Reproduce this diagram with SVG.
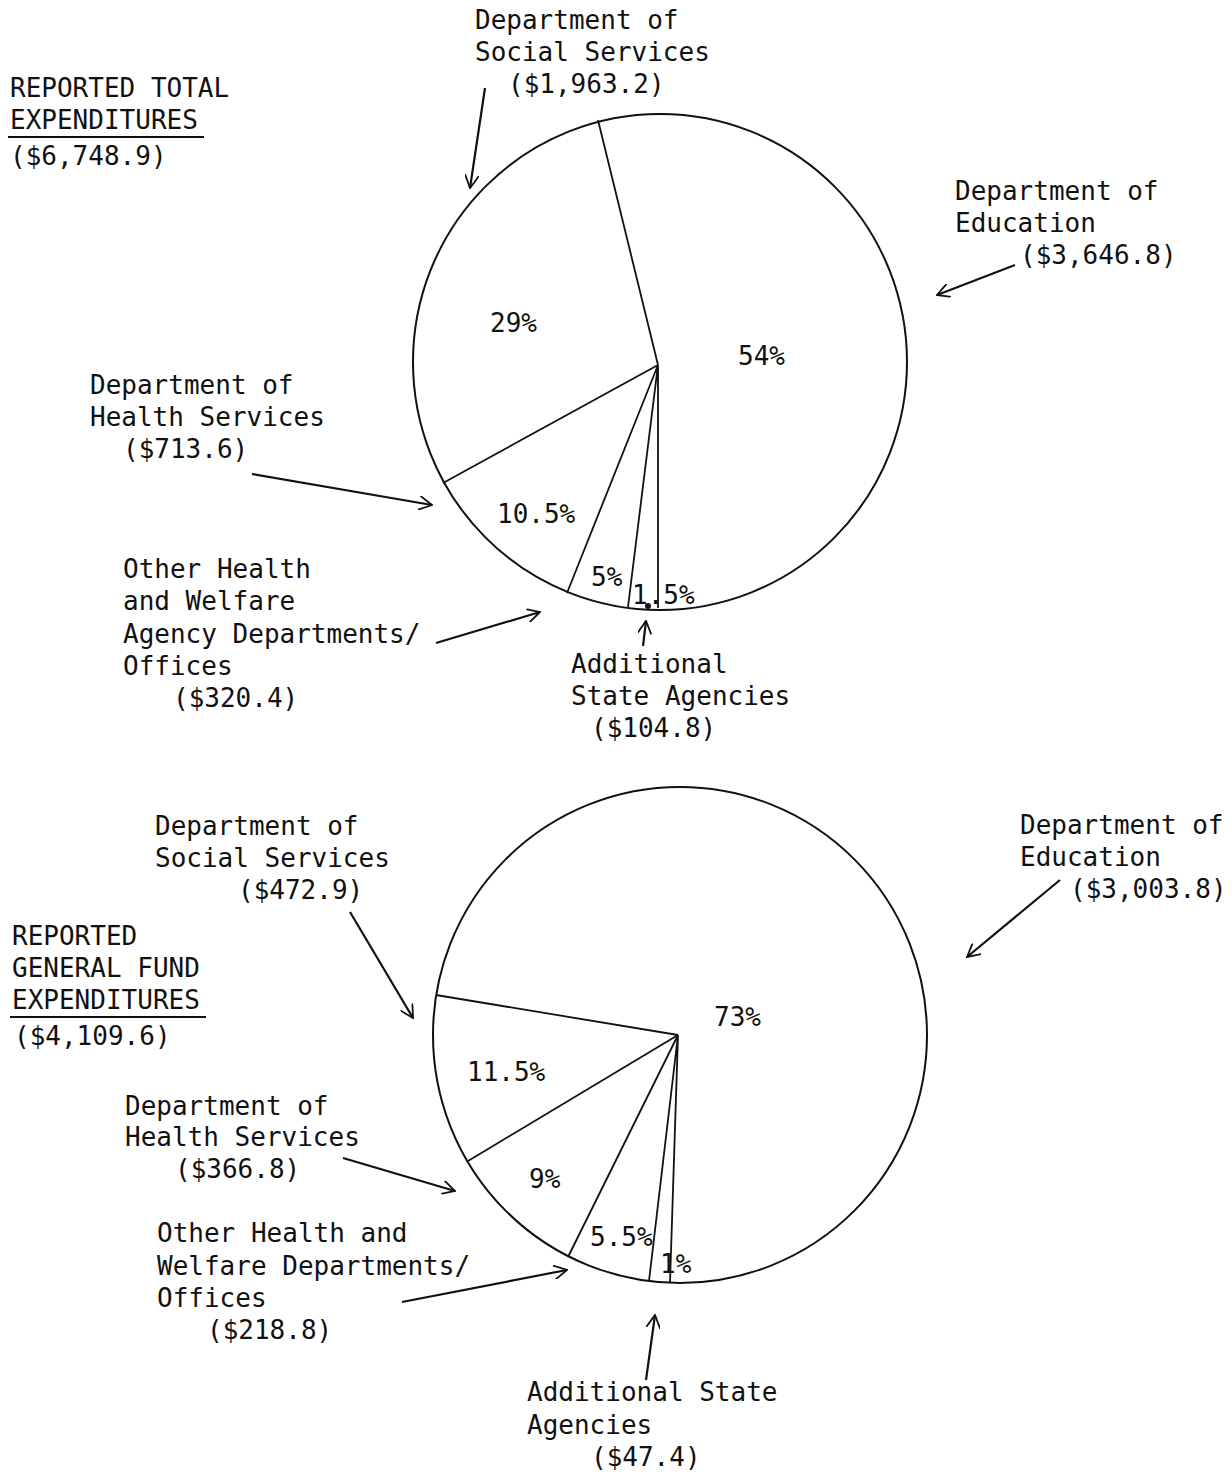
<svg xmlns="http://www.w3.org/2000/svg" width="1232" height="1472" viewBox="0 0 1232 1472">
<style>
text{font-family:"DejaVu Sans Mono","Liberation Mono",monospace;font-size:26px;letter-spacing:0px;fill:#111}
.pie{fill:none;stroke:#111;stroke-width:2}
.sp{stroke:#111;stroke-width:1.8;fill:none}
.ar{stroke:#111;stroke-width:2.2;fill:none;marker-end:url(#ah)}
.ul{stroke:#111;stroke-width:2.2}
</style>
<defs>
<marker id="ah" viewBox="0 0 14 14" refX="13" refY="7" markerWidth="14" markerHeight="14" markerUnits="userSpaceOnUse" orient="auto">
<path d="M0,0 L13,7 L0,14" fill="none" stroke="#111" stroke-width="1.8"/>
</marker>
</defs>
<rect width="1232" height="1472" fill="#fff"/>

<g id="pie-total">
<ellipse class="pie" cx="660" cy="362" rx="247" ry="248"/>
<path class="sp" d="M658,365 L598,120 M658,365 L443,483 M658,365 L567,593 M658,365 L628,607 M658,365 L658,608"/>
<circle cx="648" cy="606" r="3" fill="#111"/>
<text x="490" y="332">29%</text>
<text x="738" y="365">54%</text>
<text x="497" y="523">10.5%</text>
<text x="591" y="586">5%</text>
<text x="632" y="604">1.5%</text>
</g>

<g id="title-total">
<text x="10" y="97">REPORTED TOTAL</text>
<text x="10" y="129">EXPENDITURES</text>
<line class="ul" x1="8" y1="137" x2="204" y2="137"/>
<text x="10" y="165">($6,748.9)</text>
</g>
<g id="t-social">
<text x="475" y="29">Department of</text>
<text x="475" y="61">Social Services</text>
<text x="508" y="93">($1,963.2)</text>
</g>
<g id="t-education">
<text x="955" y="200">Department of</text>
<text x="955" y="232">Education</text>
<text x="1020" y="264">($3,646.8)</text>
</g>
<g id="t-health">
<text x="90" y="394">Department of</text>
<text x="90" y="426">Health Services</text>
<text x="123" y="458">($713.6)</text>
</g>
<g id="t-other">
<text x="123" y="578">Other Health</text>
<text x="123" y="610">and Welfare</text>
<text x="123" y="643">Agency Departments/</text>
<text x="123" y="675">Offices</text>
<text x="173" y="707">($320.4)</text>
</g>
<g id="t-additional">
<text x="571" y="673">Additional</text>
<text x="571" y="705">State Agencies</text>
<text x="591" y="737">($104.8)</text>
</g>

<g id="pie-general">
<ellipse class="pie" cx="680" cy="1035" rx="247" ry="248"/>
<path class="sp" d="M678,1035 L436,995 M678,1035 L468,1161 M678,1035 L568,1257 M678,1035 L649,1281 M678,1035 L670,1283"/>
<text x="714" y="1026">73%</text>
<text x="467" y="1081">11.5%</text>
<text x="529" y="1188">9%</text>
<text x="590" y="1246">5.5%</text>
<text x="660" y="1273">1%</text>
</g>

<g id="title-general">
<text x="12" y="945">REPORTED</text>
<text x="12" y="977">GENERAL FUND</text>
<text x="12" y="1009">EXPENDITURES</text>
<line class="ul" x1="10" y1="1017" x2="206" y2="1017"/>
<text x="14" y="1045">($4,109.6)</text>
</g>
<g id="g-social">
<text x="155" y="835">Department of</text>
<text x="155" y="867">Social Services</text>
<text x="238" y="899">($472.9)</text>
</g>
<g id="g-education">
<text x="1020" y="834">Department of</text>
<text x="1020" y="866">Education</text>
<text x="1070" y="898">($3,003.8)</text>
</g>
<g id="g-health">
<text x="125" y="1115">Department of</text>
<text x="125" y="1146">Health Services</text>
<text x="175" y="1178">($366.8)</text>
</g>
<g id="g-other">
<text x="157" y="1242">Other Health and</text>
<text x="157" y="1275">Welfare Departments/</text>
<text x="157" y="1307">Offices</text>
<text x="207" y="1339">($218.8)</text>
</g>
<g id="g-additional">
<text x="527" y="1401">Additional State</text>
<text x="527" y="1434">Agencies</text>
<text x="591" y="1466">($47.4)</text>
</g>

<g id="connectors">
<line class="ar" x1="485" y1="88" x2="470" y2="188"/>
<line class="ar" x1="1015" y1="265" x2="937" y2="295"/>
<line class="ar" x1="252" y1="474" x2="432" y2="505"/>
<line class="ar" x1="436" y1="643" x2="540" y2="612"/>
<line class="ar" x1="643" y1="646" x2="646" y2="621"/>
<line class="ar" x1="350" y1="912" x2="413" y2="1018"/>
<line class="ar" x1="1060" y1="880" x2="967" y2="957"/>
<line class="ar" x1="343" y1="1158" x2="455" y2="1191"/>
<line class="ar" x1="402" y1="1302" x2="567" y2="1270"/>
<line class="ar" x1="646" y1="1380" x2="655" y2="1315"/>
</g>
</svg>
